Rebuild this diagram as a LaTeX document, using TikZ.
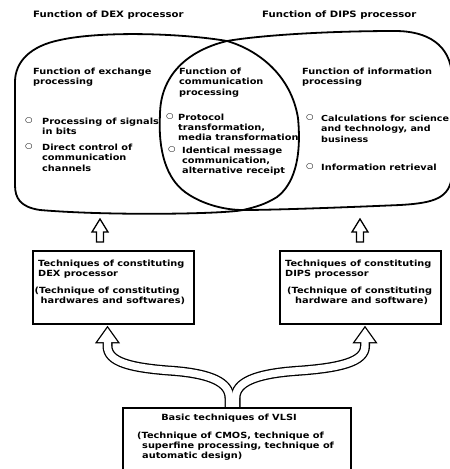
\documentclass[tikz,border=0pt]{standalone}
\usepackage{fontspec}
\setmainfont{DejaVu Sans}[FakeStretch=1.15]
\begin{document}
\begin{tikzpicture}[x=1pt,y=-1pt,
  loopline/.style={line width=1.8pt, line join=round},
  boxst/.style={draw, line width=1.5pt, fill=white, inner sep=0pt, anchor=north west},
  lbl/.style={anchor=north west, inner sep=0pt, align=left, font=\fontsize{8.5}{10.5}\selectfont\bfseries},
  ttl/.style={anchor=north west, inner sep=0pt, font=\fontsize{8.8}{10.5}\selectfont\bfseries},
  bul/.style={inner sep=0pt, font=\fontsize{7.5}{8}\selectfont\bfseries},
  upar/.style={line width=1.3pt, line join=miter, fill=white},
  ]
\useasboundingbox (0,0) rectangle (450,469);
\clip (0,0) rectangle (450,469);

% titles
\node[ttl] (tdex) at (33,10.5) {Function of DEX processor};
\node[ttl] (tdips) at (262,10.5) {Function of DIPS processor};

% DEX loop
\draw[loopline] (227,41) .. controls (258,50) and (291,75) .. (298,118)
  .. controls (302,160) and (293,185) .. (277,197)
  .. controls (266,204) and (256,207) .. (243,210)
  .. controls (225,214) and (110,216) .. (40,210)
  .. controls (20,207) and (15,198) .. (15,185) -- (15,82)
  .. controls (15,62) and (30,46) .. (60,40)
  .. controls (100,31) and (180,33) .. cycle;
% DIPS loop
\draw[loopline] (227,41) .. controls (262,35) and (330,31) .. (395,31)
  .. controls (428,31) and (450,45) .. (452,75) -- (452,175)
  .. controls (450,198) and (435,203) .. (400,205)
  .. controls (330,208) and (270,210) .. (243,210)
  .. controls (222,210) and (200,203) .. (185,192)
  .. controls (166,178) and (158,150) .. (160,115)
  .. controls (160,80) and (182,52) .. cycle;

% left region
\node[lbl] (hexch) at (33,67.5) {Function of exchange\\processing};
\node[bul] (b1) at (29,121) {○};
\node[lbl] (t1) at (42,117.5) {Processing of signals\\in bits};
\node[bul] (b2) at (29,147) {○};
\node[lbl] (t2) at (42,143.5) {Direct control of\\communication\\channels};
% middle region
\node[lbl] (hcomm) at (179,67.5) {Function of\\communication\\processing};
\node[bul] (b3) at (170,117) {○};
\node[lbl, font=\fontsize{8.5}{10}\selectfont\bfseries] (t3) at (178,113.5) {Protocol\\transformation,\\media transformation};
\node[bul] (b4) at (172,150) {○};
\node[lbl, font=\fontsize{8.5}{10}\selectfont\bfseries] (t4) at (182,146.5) {Identical message\\communication,\\alternative receipt};
% right region
\node[lbl] (hinfo) at (302,67.5) {Function of information\\processing};
\node[bul] (b5) at (310,118) {○};
\node[lbl, font=\fontsize{8.3}{10.5}\selectfont\bfseries] (t5) at (321,114.5) {Calculations for science\\and technology, and\\business};
\node[bul] (b6) at (310,167) {○};
\node[lbl] (t6) at (321,163.5) {Information retrieval};

% processor boxes
\node[boxst, minimum width=161pt, minimum height=73pt] (dexbox) at (32,250) {};
\node[lbl] (dx1) at (38,259.5) {Techniques of constituting\\DEX processor};
\node[lbl] (dx2) at (34.5,286.5) {(Technique of constituting\\\hspace*{6pt}hardwares and softwares)};
\node[boxst, minimum width=161pt, minimum height=73pt] (dipsbox) at (279,250) {};
\node[lbl] (dp1) at (285,259.5) {Techniques of constituting\\DIPS processor};
\node[lbl] (dp2) at (287,286.5) {(Technique of constituting\\\hspace*{8pt}hardware and software)};

% small hollow up arrows (box -> loop)
\coordinate (a1) at (100,242);
\coordinate (a2) at (360,242);
\draw[upar] (a1) ++(-3.5,0) -- ++(0,-10) -- ++(-4.5,0) -- ++(8,-13) -- ++(8,13) -- ++(-4.5,0) -- ++(0,10) -- cycle;
\draw[upar] (a2) ++(-3.5,0) -- ++(0,-10) -- ++(-4.5,0) -- ++(8,-13) -- ++(8,13) -- ++(-4.5,0) -- ++(0,10) -- cycle;

% branching hollow arrow (VLSI -> both boxes): black pass
\draw[line width=10pt] (229.5,409) -- (229.5,398) .. controls (229.5,382) and (210,374) .. (175,371) .. controls (130,368) and (107.5,362) .. (107.5,346) -- (107.5,336);
\draw[line width=10pt] (235.5,409) -- (235.5,398) .. controls (235.5,382) and (256,374) .. (295,371) .. controls (340,368) and (365,362) .. (365,346) -- (365,336);
\filldraw[line width=2.6pt, line join=miter] (97.5,342) -- (107.5,328) -- (117.5,342) -- cycle;
\filldraw[line width=2.6pt, line join=miter] (355,342) -- (365,328) -- (375,342) -- cycle;
% white pass
\draw[white, line width=7.4pt] (229.5,409) -- (229.5,398) .. controls (229.5,382) and (210,374) .. (175,371) .. controls (130,368) and (107.5,362) .. (107.5,346) -- (107.5,336);
\draw[white, line width=7.4pt] (235.5,409) -- (235.5,398) .. controls (235.5,382) and (256,374) .. (295,371) .. controls (340,368) and (365,362) .. (365,346) -- (365,336);
\fill[white] (97.5,342) -- (107.5,328) -- (117.5,342) -- cycle;
\fill[white] (355,342) -- (365,328) -- (375,342) -- cycle;

% VLSI box
\node[boxst, minimum width=228pt, minimum height=75pt] (vlsibox) at (122,407) {};
\node[lbl, anchor=north] (v1) at (229,413.5) {Basic techniques of VLSI};
\node[lbl, font=\fontsize{8.5}{10}\selectfont\bfseries] (v2) at (137,431.5) {(Technique of CMOS, technique of\\\hspace*{5pt}superfine processing, technique of\\\hspace*{5pt}automatic design)};
\end{tikzpicture}
\end{document}
